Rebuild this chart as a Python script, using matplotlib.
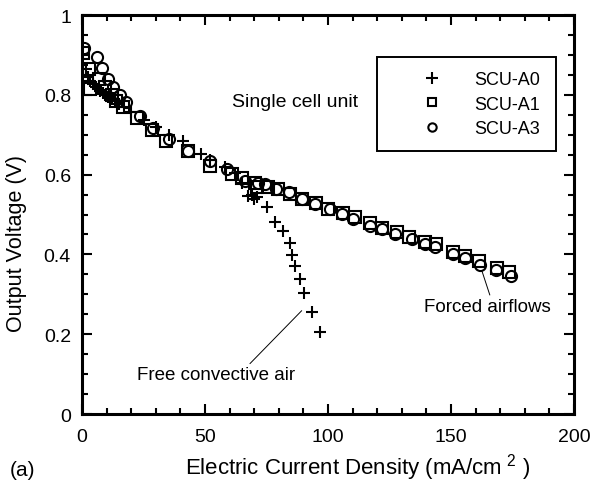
import matplotlib
matplotlib.use("Agg")
import matplotlib.pyplot as plt
from matplotlib.ticker import MultipleLocator, FuncFormatter
from matplotlib.lines import Line2D

plt.rcParams['font.family'] = ['Liberation Sans', 'DejaVu Sans']
plt.rcParams['mathtext.fontset'] = 'custom'
plt.rcParams['mathtext.rm'] = 'Liberation Sans'

# SCU-A0: free convective air
a0_i = [0, 1.5, 2.5, 3.3, 4.5, 5.5, 6.5, 7.5, 8.5, 9.5, 10.5, 12, 13.5, 15, 17,
        20, 25, 30, 35.5, 41, 48.5, 52, 58, 62, 65,
        67.6, 69, 70, 71, 75, 78.5, 81.8, 84.6, 85.2, 86.6, 88.6, 90.2, 93.6, 96.7]
a0_v = [0.875, 0.865, 0.845, 0.835, 0.828, 0.82, 0.815, 0.81, 0.805, 0.80, 0.795, 0.79, 0.785, 0.778, 0.77,
        0.757, 0.737, 0.72, 0.70, 0.685, 0.652, 0.636, 0.618, 0.605, 0.58,
        0.547, 0.55, 0.54, 0.545, 0.52, 0.482, 0.459, 0.429, 0.399, 0.37, 0.338, 0.303, 0.255, 0.206]

# SCU-A1
a1_i = [0.5, 3, 3.3, 7, 9.5, 12, 14, 16.5, 22.5, 28.5, 34, 43.2, 52, 60.8, 65, 70.3, 71.3, 75.7,
        79.8, 84.6, 89.3, 95, 100, 106, 111, 117, 122, 128, 133, 139.4, 144, 151, 155.7, 161.4,
        168.6, 173.6]
a1_v = [0.905, 0.865, 0.815, 0.84, 0.82, 0.80, 0.785, 0.77, 0.742, 0.712, 0.685, 0.66, 0.622, 0.601, 0.592,
        0.58, 0.568, 0.568, 0.564, 0.551, 0.54, 0.53, 0.515, 0.503, 0.493, 0.478, 0.466, 0.455, 0.443,
        0.43, 0.426, 0.405, 0.396, 0.384, 0.366, 0.355]

# SCU-A3
a3_i = [0.8, 6, 8, 10.7, 12.7, 15.4, 18, 23.6, 29, 35.5, 43, 52, 58.8, 66.3, 71.5, 74.4, 79, 84,
        89.3, 94.7, 100.8, 105.6, 110.3, 117, 121.8, 127.2, 134, 139.4, 143.5, 150.9, 155.7,
        161.8, 168.3, 174.5]
a3_v = [0.918, 0.895, 0.866, 0.84, 0.82, 0.80, 0.782, 0.748, 0.718, 0.69, 0.66, 0.635, 0.614, 0.585,
        0.58, 0.576, 0.564, 0.556, 0.539, 0.526, 0.513, 0.501, 0.489, 0.472, 0.464, 0.451, 0.439,
        0.426, 0.418, 0.401, 0.39, 0.373, 0.362, 0.345]

fig = plt.figure(figsize=(5.97, 4.85), dpi=100)
ax = fig.add_axes([0.1374, 0.1443, 0.8241, 0.8227])

mk = dict(linestyle='none', color='black', markerfacecolor='none', markeredgewidth=1.5)
ax.plot(a0_i, a0_v, marker='+', markersize=8.5, **mk)
ax.plot(a1_i, a1_v, marker='s', markersize=8.6, **mk)
ax.plot(a3_i, a3_v, marker='o', markersize=8, **mk)

ax.set_xlim(0, 200)
ax.set_ylim(0, 1)
ax.xaxis.set_major_locator(MultipleLocator(50))
ax.xaxis.set_minor_locator(MultipleLocator(10))
ax.yaxis.set_major_locator(MultipleLocator(0.2))
ax.yaxis.set_minor_locator(MultipleLocator(0.05))
ax.yaxis.set_major_formatter(FuncFormatter(lambda v, p: '%g' % round(v, 2)))
ax.tick_params(which='both', direction='in', top=True, right=True, width=1.5, labelsize=14)
ax.tick_params(which='major', length=7)
ax.tick_params(which='minor', length=4.5)
ax.tick_params(axis='x', pad=10)
ax.tick_params(axis='y', pad=8)
for s in ax.spines.values():
    s.set_linewidth(2.2)

ax.set_xlabel('Electric Current Density (mA/cm$^{\\ 2}$ )', fontsize=16, va='baseline')
ax.xaxis.set_label_coords(0.56, -0.149)
ax.set_ylabel('Output Voltage (V)', fontsize=15.5, va='center')
ax.yaxis.set_label_coords(-0.134, 0.43)
fig.text(0.017, 0.03, '(a)', fontsize=15, va='center')

ax.text(86.6, 0.784, 'Single cell unit', fontsize=14, ha='center', va='center')
ax.annotate('Forced airflows', xy=(161.8, 0.373), xytext=(164.6, 0.27),
            fontsize=13.5, ha='center', va='center',
            arrowprops=dict(arrowstyle='-', lw=0.7, color='black', relpos=(0.53, 1.0),
                            shrinkA=0, shrinkB=4))
ax.annotate('Free convective air', xy=(89.3, 0.259), xytext=(54.3, 0.098),
            fontsize=13.5, ha='center', va='center',
            arrowprops=dict(arrowstyle='-', lw=0.7, color='black', relpos=(0.7, 1.0),
                            shrinkA=0, shrinkB=0))

handles = [Line2D([], [], marker='+', markersize=8.5, **mk),
           Line2D([], [], marker='s', markersize=6, **mk),
           Line2D([], [], marker='o', markersize=6, **mk)]
leg = ax.legend(handles, ['SCU-A0', 'SCU-A1', 'SCU-A3'], loc='upper left',
                bbox_to_anchor=(0.5996, 0.669, 0.3638, 0.2256), mode='expand',
                borderaxespad=0, fontsize=13, fancybox=False, framealpha=1,
                edgecolor='black', borderpad=0.77, labelspacing=0.42,
                handlelength=4.5, handletextpad=0.1)
leg.get_frame().set_linewidth(1.4)

fig.savefig('out.png', dpi=100)
